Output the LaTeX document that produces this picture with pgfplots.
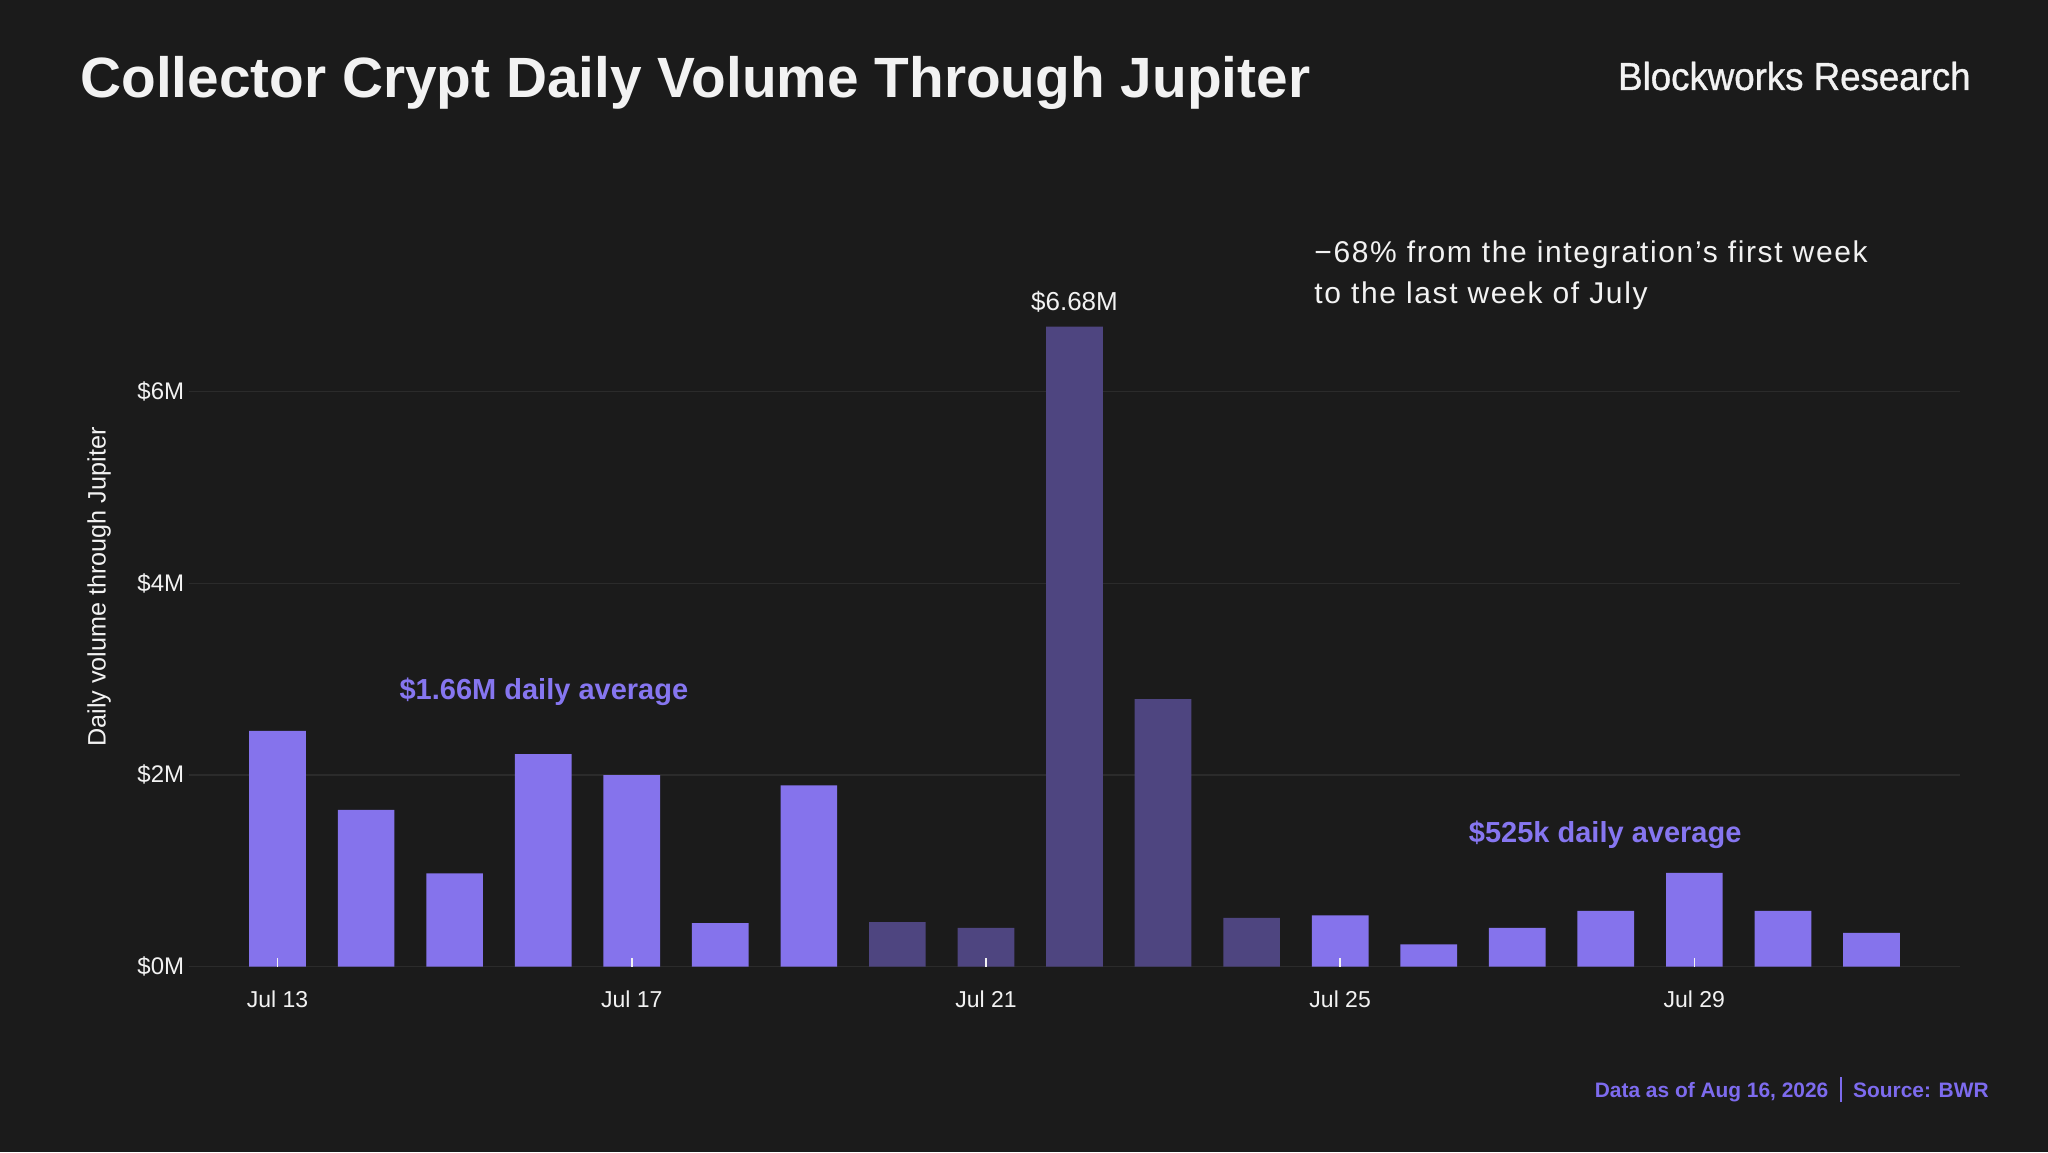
\documentclass[border=0pt]{standalone}
\usepackage{fontspec}
\setmainfont{Liberation Sans}
\usepackage{graphicx}
\usepackage{pgfplots}
\usepackage{pgfplotstable}
\pgfplotsset{compat=1.18}
\definecolor{bgc}{HTML}{1B1B1B}
\definecolor{barlight}{HTML}{8573EC}
\definecolor{bardark}{HTML}{4E4580}
\definecolor{accent}{HTML}{8676F0}
\definecolor{foot}{HTML}{7D6BEE}
\definecolor{txt}{HTML}{F2F2F2}
\pgfplotstableread{
x y
0 2.46
1 1.634
2 0.971
3 2.218
4 1.998
5 0.452
6 1.89
12 0.534
13 0.232
14 0.404
15 0.581
16 0.978
17 0.581
18 0.351
}\lightdata
\pgfplotstableread{
x y
7 0.463
8 0.404
9 6.68
10 2.79
11 0.507
}\darkdata
\begin{document}
\begin{tikzpicture}
\fill[bgc] (0,0) rectangle (1024pt,576pt);
\useasboundingbox (0,0) rectangle (1024pt,576pt);
\begin{axis}[
  at={(94.5pt,92.75pt)}, anchor=south west,
  scale only axis, width=885.5pt, height=359.25pt,
  xmin=-1, xmax=19, ymin=0, ymax=7.5,
  clip=false,
  axis line style={draw=none},
  xtick pos=bottom,
  ytick pos=left,
  xtick={0,4,8,12,16},
  xticklabels={Jul 13,Jul 17,Jul 21,Jul 25,Jul 29},
  ytick={0,2,4,6},
  yticklabels={\$0M,\$2M,\$4M,\$6M},
  ymajorgrids,
  major grid style={draw=white, opacity=0.07, line width=0.75pt},
  tick align=inside,
  major tick length=0pt,
  xtick style={draw=none},
  ytick style={draw=none},
  xticklabel style={font=\fontsize{11.5pt}{13pt}\selectfont, text=txt, inner sep=0pt, anchor=north, yshift=-12pt},
  yticklabel style={font=\fontsize{12pt}{13pt}\selectfont, text=txt, inner sep=0pt, anchor=east, xshift=-2.25pt},
]
\addplot[ybar, bar width=0.64, bar shift=0pt, fill=barlight, draw=none] table[x=x,y=y] {\lightdata};
\addplot[ybar, bar width=0.64, bar shift=0pt, fill=bardark, draw=none] table[x=x,y=y] {\darkdata};
% tick marks at the labelled dates, drawn over the bars
\addplot[ycomb, draw=txt, line width=0.85pt, mark=none] coordinates {(0,0.084) (4,0.084) (8,0.084) (12,0.084) (16,0.084)};
\node[anchor=base, text=txt, font=\fontsize{13pt}{15pt}\selectfont, inner sep=0pt, yshift=8pt] at (axis cs:9,6.68) {\$6.68M};
\node[anchor=base west, text=accent, inner sep=0pt, font=\fontsize{14.5pt}{16pt}\selectfont\bfseries] at (axis cs:1.374,2.782) {\$1.66M daily average};
\node[anchor=base west, text=accent, inner sep=0pt, font=\fontsize{14.5pt}{16pt}\selectfont\bfseries] at (axis cs:13.45,1.296) {\$525k daily average};
\end{axis}
% y label
\node[rotate=90, text=txt, font=\fontsize{12.6pt}{14pt}\selectfont, inner sep=0pt] at (49.5pt,282.5pt) {Daily volume through Jupiter};
% title
\node[anchor=base west, text=txt, inner sep=0pt, font=\fontsize{28.4pt}{33pt}\selectfont\bfseries] at (40pt,527pt) {Collector Crypt Daily Volume Through Jupiter};
\node[anchor=base east, text=txt, inner sep=0pt, font=\fontsize{19.5pt}{22pt}\selectfont\addfontfeatures{FakeBold=1}] at (985.5pt,531pt) {\scalebox{0.94}[1]{Blockworks Research}};
% annotation
\node[anchor=base west, text=txt, inner sep=0pt, font=\fontsize{15pt}{18pt}\selectfont\addfontfeatures{LetterSpace=5.5}] at (657pt,444.85pt) {−68\% from the integration's first week};
\node[anchor=base west, text=txt, inner sep=0pt, font=\fontsize{15pt}{18pt}\selectfont\addfontfeatures{LetterSpace=5.5}] at (657pt,424.35pt) {to the last week of July};
% footer
\node[anchor=base east, text=foot, inner sep=0pt, font=\fontsize{10.45pt}{12pt}\selectfont\bfseries] at (994.5pt,27.5pt) {Data as of Aug 16, 2026\hspace{0.55em}\rule[-0.25em]{0.9pt}{1.2em}\hspace{0.55em}Source: BWR};
\end{tikzpicture}
\end{document}
